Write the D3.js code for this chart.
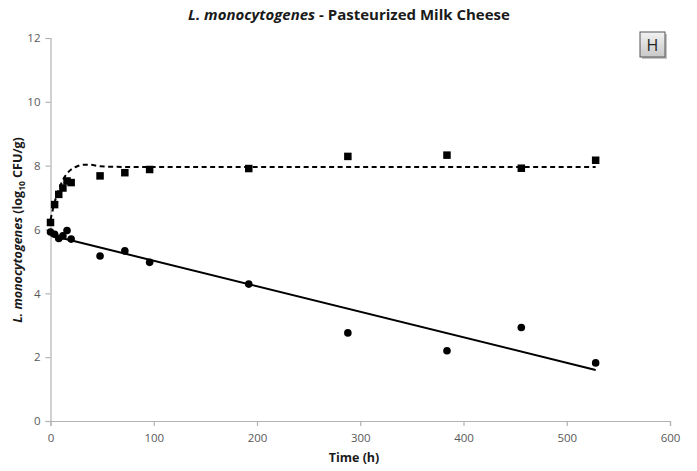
<!DOCTYPE html>
<html>
<head>
<meta charset="utf-8">
<script src="https://cdn.jsdelivr.net/npm/d3@7"></script>
<style>
  html, body { margin: 0; padding: 0; background: #fff; }
  svg { display: block; font-family: "Open Sans", "Liberation Sans", sans-serif; }
</style>
</head>
<body>
<svg id="chart" width="697" height="471"></svg>
<script>
// Sampling times (h)
const times = [0, 4, 8, 12, 16, 20, 48, 72, 96, 192, 288, 384, 456, 528];
// Observed counts, log10 CFU/g
const growthObs = [6.22, 6.78, 7.10, 7.30, 7.52, 7.47, 7.68, 7.78, 7.88, 7.91, 8.29, 8.33, 7.92, 8.17];
const declineObs = [5.92, 5.85, 5.72, 5.80, 5.97, 5.70, 5.17, 5.33, 4.97, 4.29, 2.76, 2.20, 2.93, 1.82];

// Fitted growth curve (dashed)
const growthFitT = [0, 4, 8, 12, 16, 20, 26, 32, 38, 48, 72, 528];
const growthFitY = [6.30, 6.85, 7.25, 7.55, 7.75, 7.88, 7.98, 8.03, 8.03, 7.98, 7.96, 7.96];
// Fitted linear inactivation (solid)
const declineFitT = [0, 528];
const declineFitY = [5.82, 1.60];

const xTicks = [0, 100, 200, 300, 400, 500, 600];
const yTicks = [0, 2, 4, 6, 8, 10, 12];

const svg = d3.select("#chart");
const x = d3.scaleLinear().domain([0, 600]).range([50.5, 670]);
const y = d3.scaleLinear().domain([0, 12]).range([421, 38]);

const axisColor = "#b3b3b3";
const tickText = "#595959";

// Axes
const xAxis = svg.append("g").attr("transform", `translate(0,${y(0)})`)
  .call(d3.axisBottom(x).tickValues(xTicks).tickSize(5).tickPadding(5).tickFormat(d3.format("d")));
const yAxis = svg.append("g").attr("transform", `translate(${x(0)},0)`)
  .call(d3.axisLeft(y).tickValues(yTicks).tickSize(5).tickPadding(5).tickFormat(d3.format("d")));
[xAxis, yAxis].forEach(g => {
  g.select(".domain").attr("stroke", axisColor).attr("stroke-width", 1.2);
  g.selectAll(".tick line").attr("stroke", axisColor).attr("stroke-width", 1.2);
  g.selectAll(".tick text").attr("fill", tickText).attr("font-size", 11.5)
    .attr("font-family", "'Open Sans', sans-serif");
});
xAxis.selectAll(".tick text").attr("dy", "0.95em");

// Fitted lines
const line = d3.line().x(d => x(d[0])).y(d => y(d[1]));
svg.append("path")
  .datum(growthFitT.map((t, i) => [t, growthFitY[i]]))
  .attr("d", line.curve(d3.curveMonotoneX))
  .attr("fill", "none").attr("stroke", "#000").attr("stroke-width", 2)
  .attr("stroke-dasharray", "5,3.5");
svg.append("path")
  .datum(declineFitT.map((t, i) => [t, declineFitY[i]]))
  .attr("d", d3.line().x(d => x(d[0])).y(d => y(d[1])))
  .attr("fill", "none").attr("stroke", "#000").attr("stroke-width", 2);

// Observations
const sq = 7.5;
svg.append("g").selectAll("rect")
  .data(times.map((t, i) => [t, growthObs[i]]))
  .join("rect")
  .attr("x", d => x(d[0]) - sq / 2).attr("y", d => y(d[1]) - sq / 2)
  .attr("width", sq).attr("height", sq).attr("fill", "#000");
svg.append("g").selectAll("circle")
  .data(times.map((t, i) => [t, declineObs[i]]))
  .join("circle")
  .attr("cx", d => x(d[0])).attr("cy", d => y(d[1])).attr("r", 3.8).attr("fill", "#000");

// Title
const title = svg.append("text").attr("x", 349).attr("y", 20).attr("text-anchor", "middle")
  .attr("font-size", 15).attr("font-weight", "bold").attr("fill", "#1a1a1a");
title.append("tspan").attr("font-style", "italic").text("L. monocytogenes");
title.append("tspan").text(" - Pasteurized Milk Cheese");

// Axis titles
svg.append("text").attr("x", 354).attr("y", 462).attr("text-anchor", "middle")
  .attr("font-size", 12.5).attr("font-weight", "bold").attr("fill", "#1a1a1a").text("Time (h)");

const yt = svg.append("text").attr("transform", "translate(22,230) rotate(-90)")
  .attr("text-anchor", "middle").attr("font-size", 12.5).attr("font-weight", "bold").attr("fill", "#1a1a1a");
yt.append("tspan").attr("font-style", "italic").text("L. monocytogenes");
yt.append("tspan").text(" (log");
yt.append("tspan").attr("font-size", 8.5).attr("dy", 3).text("10");
yt.append("tspan").attr("dy", -3).text(" CFU/g)");

// Panel letter
const defs = svg.append("defs");
const grad = defs.append("linearGradient").attr("id", "boxFill").attr("x1", 0).attr("y1", 0).attr("x2", 0).attr("y2", 1);
grad.append("stop").attr("offset", "0%").attr("stop-color", "#f2f2f2");
grad.append("stop").attr("offset", "100%").attr("stop-color", "#c8c8c8");
svg.append("rect").attr("x", 642).attr("y", 34).attr("width", 25).attr("height", 25)
  .attr("fill", "#9a9a9a").attr("opacity", 0.6);
svg.append("rect").attr("x", 640).attr("y", 32).attr("width", 25).attr("height", 25)
  .attr("fill", "url(#boxFill)").attr("stroke", "#555").attr("stroke-width", 1);
svg.append("text").attr("x", 652.5).attr("y", 50.5).attr("text-anchor", "middle")
  .attr("font-size", 16).attr("fill", "#222").text("H");
</script>
</body>
</html>
